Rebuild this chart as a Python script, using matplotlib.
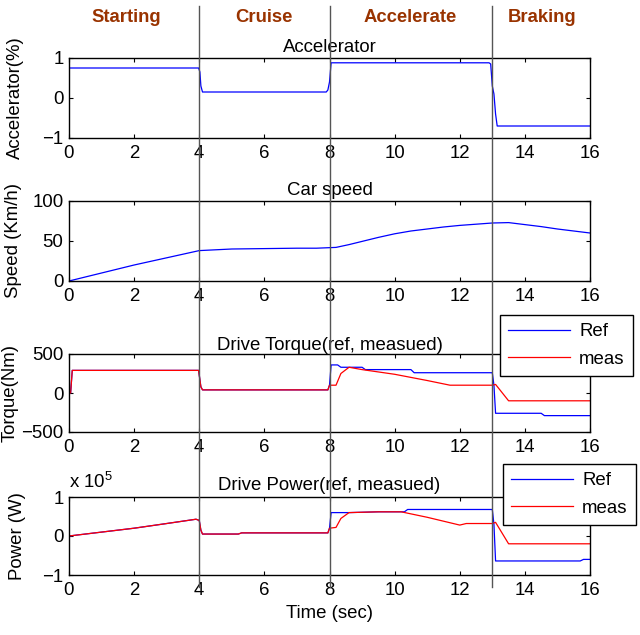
import numpy as np
import matplotlib.pyplot as plt
import matplotlib.transforms as mtransforms

plt.rcParams['font.family'] = ['Liberation Sans', 'DejaVu Sans']
plt.rcParams['font.size'] = 13.4
plt.rcParams['mathtext.fontset'] = 'custom'
plt.rcParams['mathtext.rm'] = 'Liberation Sans'
plt.rcParams['mathtext.it'] = 'Liberation Sans'

# accelerator pedal (-1..1)
t_acc = [0, 3.98, 4.02, 4.05, 4.1, 7.9, 7.95, 8.0, 8.05, 12.9, 12.95, 13.0, 13.05, 13.1, 13.15, 16]
acc = [0.75, 0.75, 0.65, 0.3, 0.15, 0.15, 0.2, 0.4, 0.88, 0.88, 0.85, 0.3, 0.1, -0.4, -0.7, -0.7]

# car speed (km/h)
t_spd = [0, 1, 2, 3, 4, 5, 6, 7, 7.6, 8.2, 8.6, 9, 9.5, 10, 10.5, 11, 11.5, 12, 12.5, 13, 13.5, 14, 14.5, 15, 15.5, 16]
spd = [0, 10, 20, 29, 38, 40, 40.5, 41, 41, 42, 45.5, 49.5, 54.5, 59, 62.5, 65, 67.5, 69.5, 71, 72.5, 73, 70.5, 68, 65, 62.5, 60]

# drive torque (Nm)
t_tq_ref = [0, 0.05, 0.1, 3.98, 4.05, 4.1, 7.95, 8.0, 8.05, 8.25, 8.35, 9.0, 9.1, 10.5, 10.6, 13.0, 13.05, 13.1, 14.5, 14.6, 16]
tq_ref = [0, 0, 290, 290, 80, 40, 40, 100, 360, 360, 330, 330, 300, 300, 260, 260, 100, -260, -260, -290, -290]
t_tq_meas = [0, 0.05, 0.1, 3.98, 4.05, 4.1, 7.95, 8.0, 8.2, 8.35, 8.6, 9.0, 10.0, 11.0, 11.7, 13.0, 13.1, 13.5, 16]
tq_meas = [0, 0, 290, 290, 80, 40, 40, 100, 100, 250, 330, 300, 240, 160, 100, 100, 110, -100, -100]

# drive power (x1e5 W)
t_pw_ref = [0, 1, 2, 3, 3.9, 4.0, 4.05, 4.1, 5.2, 5.3, 7.95, 8.0, 8.05, 8.6, 9.5, 10.3, 10.4, 13.0, 13.05, 13.1, 15.7, 15.8, 16]
pw_ref = [0, 0.1, 0.2, 0.32, 0.43, 0.4, 0.15, 0.05, 0.05, 0.08, 0.08, 0.2, 0.6, 0.6, 0.62, 0.62, 0.68, 0.68, 0.3, -0.64, -0.64, -0.6, -0.6]
t_pw_meas = [0, 1, 2, 3, 3.9, 4.0, 4.05, 4.1, 5.2, 5.3, 7.95, 8.0, 8.2, 8.35, 8.6, 9.5, 10.2, 11.0, 12.0, 12.2, 13.0, 13.1, 13.5, 16]
pw_meas = [0, 0.1, 0.2, 0.32, 0.43, 0.4, 0.15, 0.05, 0.05, 0.08, 0.08, 0.2, 0.22, 0.45, 0.6, 0.62, 0.62, 0.48, 0.28, 0.32, 0.32, 0.35, -0.2, -0.2]

phase_names = ['Starting', 'Cruise', 'Accelerate', 'Braking']
phase_x = [1.75, 6.0, 10.47, 14.53]
phase_bounds = [4, 8, 13]

H = 635
def box(top, bottom):
    # pixel rows -> figure fraction
    return [69 / 640, 1 - bottom / H, 521 / 640, (bottom - top) / H]

fig = plt.figure(figsize=(6.4, 6.35), dpi=100)
ax1 = fig.add_axes(box(58, 138))
ax2 = fig.add_axes(box(201, 281))
ax3 = fig.add_axes(box(354, 432))
ax4 = fig.add_axes(box(497, 575))

ax1.plot(t_acc, acc, color='blue', lw=0.9)
ax1.set_ylim(-1, 1)
ax1.set_yticks([-1, 0, 1])
ax1.set_title('Accelerator', fontsize=13.4, pad=4)
ax1.set_ylabel('Accelerator(%)')

ax2.plot(t_spd, spd, color='blue', lw=0.9)
ax2.set_ylim(0, 100)
ax2.set_yticks([0, 50, 100])
ax2.set_title('Car speed', fontsize=13.4, pad=4)
ax2.set_ylabel('Speed (Km/h)')

ax3.plot(t_tq_ref, tq_ref, color='blue', lw=0.9, label='Ref')
ax3.plot(t_tq_meas, tq_meas, color='red', lw=0.9, label='meas')
ax3.set_ylim(-500, 500)
ax3.set_yticks([-500, 0, 500])
ax3.set_title('Drive Torque(ref, measued)', fontsize=13.4, pad=3)
ax3.set_ylabel('Torque(Nm)')

ax4.plot(t_pw_ref, pw_ref, color='blue', lw=0.9, label='Ref')
ax4.plot(t_pw_meas, pw_meas, color='red', lw=0.9, label='meas')
ax4.set_ylim(-1, 1)
ax4.set_yticks([-1, 0, 1])
ax4.set_title('Drive Power(ref, measued)', fontsize=13.4, pad=5)
ax4.set_ylabel('Power (W)')
ax4.set_xlabel('Time (sec)', labelpad=4)
ax4.text(0.0, 1.07, r'x 10$^{5}$', transform=ax4.transAxes, fontsize=13.4, va='bottom')

# y-label centres (pixel x)
for ax, lx in ((ax1, 24), (ax2, 22), (ax3, 19), (ax4, 26)):
    ax.yaxis.set_label_coords((lx - 69) / 521, 0.5)

for ax in (ax1, ax2, ax3, ax4):
    ax.set_xlim(0, 16)
    ax.set_xticks(range(0, 17, 2))
    ax.tick_params(direction='in', top=True, right=True, length=3, pad=5)
    ax.tick_params(axis='y', pad=4)
    for s in ax.spines.values():
        s.set_linewidth(1.0)

for ax, anchor in ((ax3, (500 / 640, 1 - 315 / H)), (ax4, (503 / 640, 1 - 464 / H))):
    leg = fig.legend(*ax.get_legend_handles_labels(), loc='upper left', bbox_to_anchor=anchor,
                     fancybox=False, framealpha=1, edgecolor='black', handlelength=3.3,
                     handletextpad=0.5, fontsize=13.4, borderpad=0.45, labelspacing=0.55,
                     borderaxespad=0)
    leg.get_frame().set_linewidth(1.0)

# phase boundaries across the whole figure
trans = mtransforms.blended_transform_factory(ax4.transData, fig.transFigure)
for xb in phase_bounds:
    fig.add_artist(plt.Line2D([xb, xb], [1 - 587 / H, 1 - 6 / H], transform=trans,
                              color='#555555', lw=1.0, zorder=5))

for name, xp in zip(phase_names, phase_x):
    fig.text(xp, 1 - 18 / H, name, transform=trans, ha='center', va='center',
             fontsize=13.3, fontweight='bold', color='#993300')

fig.savefig('out.png', dpi=100)
